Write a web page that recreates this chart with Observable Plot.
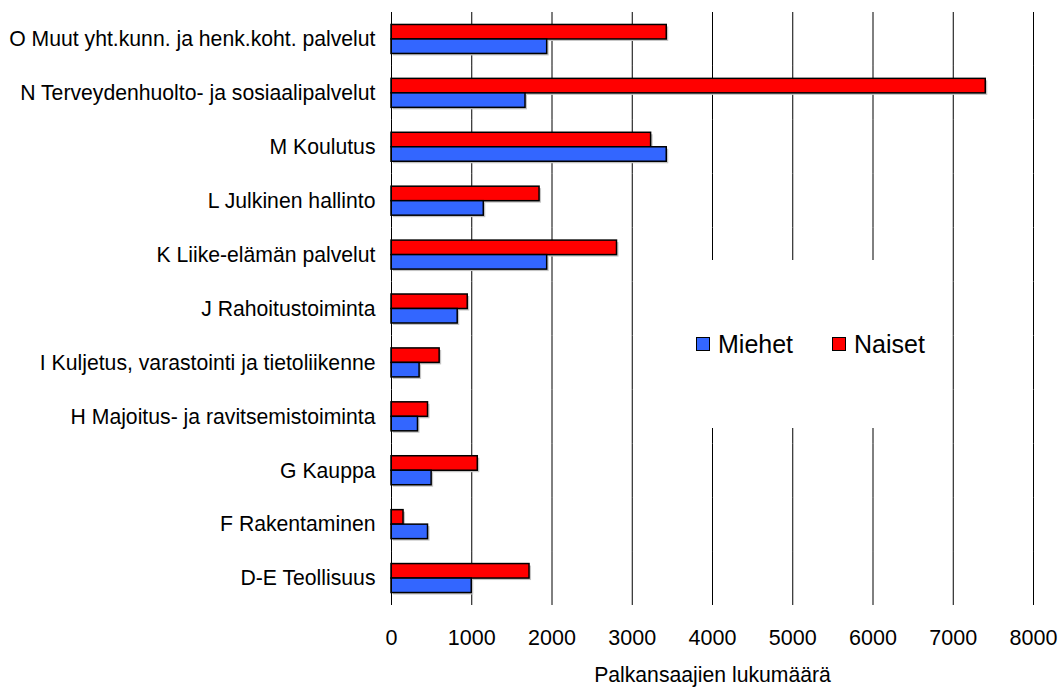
<!DOCTYPE html>
<html>
<head>
<meta charset="utf-8">
<script src="https://cdn.jsdelivr.net/npm/d3@7"></script>
<script src="https://cdn.jsdelivr.net/npm/@observablehq/plot@0.6"></script>
<style>
  html, body { margin: 0; padding: 0; background: white; }
  #wrap { position: relative; width: 1062px; height: 687px; font-family: "Liberation Sans", Arial, sans-serif; }
  #legend { position: absolute; left: 645px; top: 260px; width: 300px; height: 168px; background: white;
            display: flex; align-items: center; box-sizing: border-box; padding-left: 51px; font-size: 25px; color: #000; }
  .sw { width: 12px; height: 12px; border: 1.5px solid #000; margin-right: 8px; flex: none; }
  .item { display: flex; align-items: center; }
  svg g[aria-label="x-axis tick label"] text { font-size: 21.5px; }
</style>
</head>
<body>
<div id="wrap"></div>
<script>
const categories = [
  "O Muut yht.kunn. ja henk.koht. palvelut",
  "N Terveydenhuolto- ja sosiaalipalvelut",
  "M Koulutus",
  "L Julkinen hallinto",
  "K Liike-elämän palvelut",
  "J Rahoitustoiminta",
  "I Kuljetus, varastointi ja tietoliikenne",
  "H Majoitus- ja ravitsemistoiminta",
  "G Kauppa",
  "F Rakentaminen",
  "D-E Teollisuus"
];
const naiset = [3430, 7405, 3235, 1845, 2810, 950, 600, 455, 1075, 150, 1720];
const miehet = [1940, 1670, 3430, 1150, 1940, 825, 350, 330, 500, 455, 1000];
const xTicks = [0, 1000, 2000, 3000, 4000, 5000, 6000, 7000, 8000];
const series = ["Naiset", "Miehet"];
const legendOrder = ["Miehet", "Naiset"];
const colors = ["#FF0000", "#3366FF"];
const xLabel = "Palkansaajien lukumäärä";

const data = categories.flatMap((c, i) => [
  {cat: c, sex: "Naiset", value: naiset[i]},
  {cat: c, sex: "Miehet", value: miehet[i]}
]);

const chart = Plot.plot({
  width: 1062,
  height: 687,
  marginLeft: 391,
  marginRight: 29,
  marginTop: 12,
  marginBottom: 82,
  style: {fontFamily: "'Liberation Sans', Arial, sans-serif", fontSize: "21.2px", color: "#000", background: "white", overflow: "visible"},
  x: {domain: [0, 8000], ticks: xTicks, tickFormat: d3.format("d"), tickSize: 0, tickPadding: 24,
      label: xLabel, labelAnchor: "center", labelOffset: 76, labelArrow: "none"},
  fy: {domain: categories, padding: 0, round: false, axis: "left", tickSize: 0, tickPadding: 16, label: null},
  y: {domain: series, paddingInner: 0, paddingOuter: 0.86, round: false, axis: null},
  color: {domain: series, range: colors},
  marks: [
    Plot.ruleX(xTicks.filter(d => d > 0), {stroke: "#000", strokeWidth: 1}),
    Plot.barX(data, {fy: "cat", y: "sex", x: "value", fill: "#c4c4c4", dx: 2, dy: 2}),
    Plot.barX(data, {fy: "cat", y: "sex", x: "value", fill: "sex", stroke: "#000", strokeWidth: 1.5}),
    Plot.ruleX([0], {stroke: "#000", strokeWidth: 1})
  ]
});
const wrap = document.getElementById("wrap");
wrap.appendChild(chart);

const legend = document.createElement("div");
legend.id = "legend";
legendOrder.forEach((s, i) => {
  const item = document.createElement("div");
  item.className = "item";
  if (i > 0) item.style.marginLeft = "39px";
  const sw = document.createElement("div");
  sw.className = "sw";
  sw.style.background = colors[series.indexOf(s)];
  const t = document.createElement("span");
  t.textContent = s;
  item.appendChild(sw);
  item.appendChild(t);
  legend.appendChild(item);
});
wrap.appendChild(legend);
</script>
</body>
</html>
